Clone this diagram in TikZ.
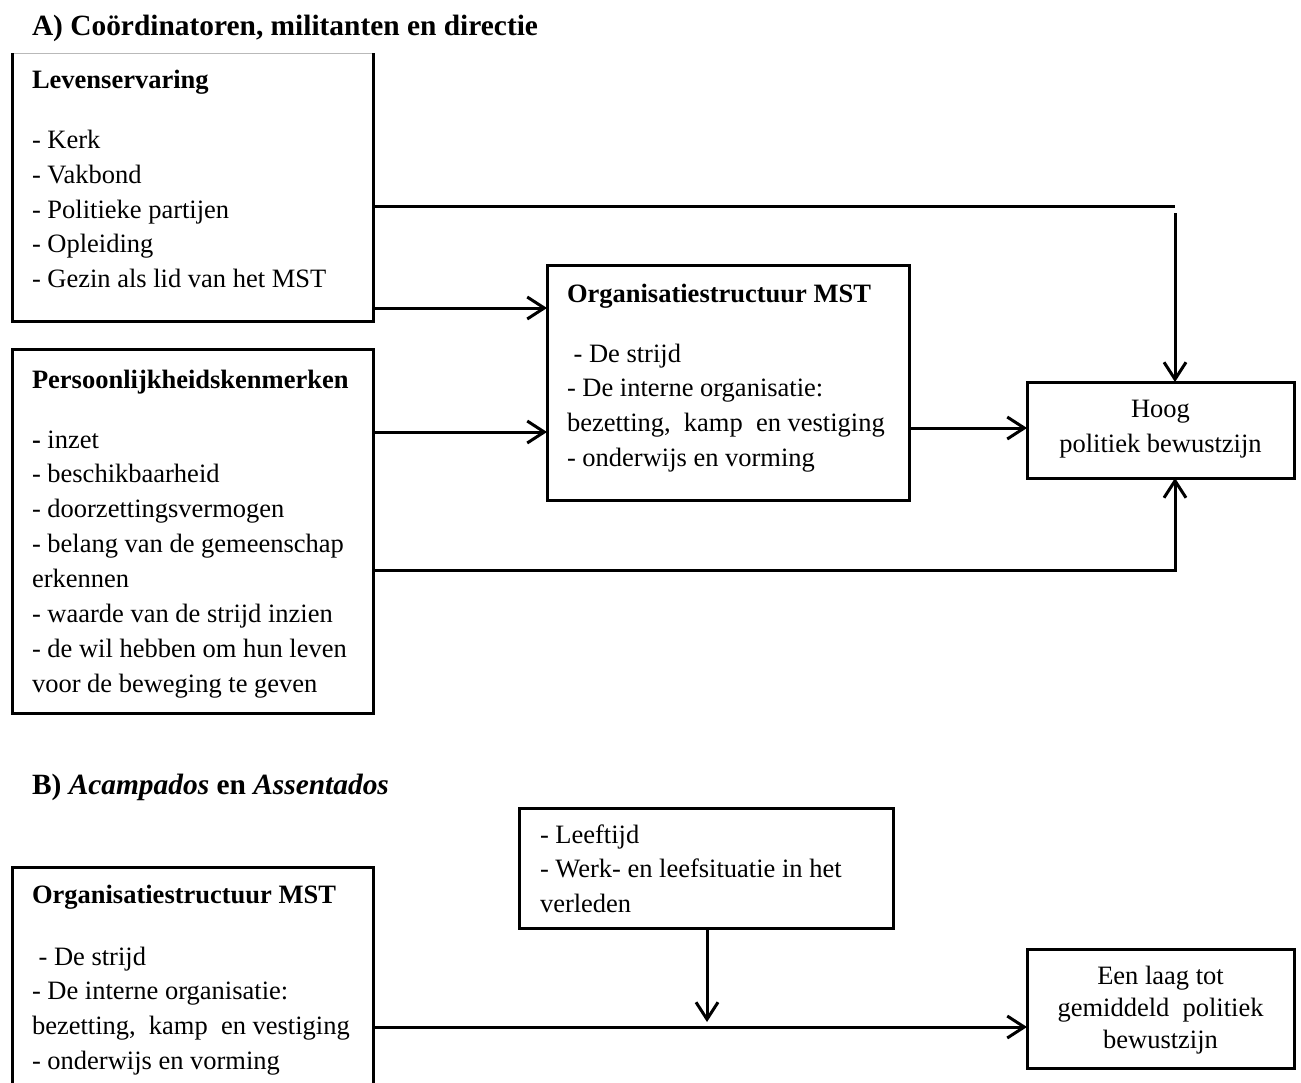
\documentclass[tikz,border=0pt]{standalone}
\usepackage{fontspec}
\setmainfont{Liberation Serif}
\usetikzlibrary{arrows.meta,calc}
\newcommand\fixsp{\spaceskip=6.6pt\relax\rule{0pt}{24pt}}
\begin{document}
\begin{tikzpicture}[x=1pt,y=-1pt,
  boxshape/.style={draw=black, line width=3pt, inner sep=0pt, outer sep=0pt, anchor=north west},
  openshape/.style={inner sep=0pt, outer sep=0pt, anchor=north west},
  txt/.style={inner sep=0pt, outer sep=0pt, anchor=north west, text width=420pt, align=left, font=\fontsize{26.5}{34.9}\selectfont},
  ctxt/.style={inner sep=0pt, outer sep=0pt, anchor=north, text width=260pt, align=center, font=\fontsize{26.5}{32}\selectfont},
  hdr/.style={inner sep=0pt, outer sep=0pt, anchor=base west, font=\fontsize{29.4}{34.9}\selectfont\bfseries},
  link/.style={line width=3pt},
  arrowlink/.style={line width=3pt, -{Straight Barb[length=17pt,width=22pt]}},
]
\path[use as bounding box] (0,0) rectangle (1301,1082);
\clip (0,0) rectangle (1301,1082);

% ---------- Part A ----------
\node[hdr] (titleA) at (32,35) {A) Coördinatoren, militanten en directie};

% Levenservaring box (top edge thin grey)
\node[openshape, minimum width=361pt, minimum height=268pt] (lev) at (12,53) {};
\draw[gray!55, line width=1pt] (lev.north west) -- (lev.north east);
\draw[line width=3pt] (lev.north west) -- (lev.south west) -- (lev.south east) -- (lev.north east);
\node[txt] (levt) at (32,64) {\fixsp\textbf{Levenservaring}\\[25.3pt]- Kerk\\- Vakbond\\- Politieke partijen\\- Opleiding\\- Gezin als lid van het MST};

% Persoonlijkheidskenmerken box
\node[boxshape, minimum width=361pt, minimum height=364pt] (pers) at (12,349) {};
\node[txt] (perst) at (32,364) {\fixsp\textbf{Persoonlijkheidskenmerken}\\[25.1pt]\textbf{-} inzet\\- beschikbaarheid\\- doorzettingsvermogen\\- belang van de gemeenschap\\erkennen\\- waarde van de strijd inzien\\- de wil hebben om hun leven\\voor de beweging te geven};

% Organisatiestructuur MST (A)
\node[boxshape, minimum width=362pt, minimum height=235pt] (org) at (547,265) {};
\node[txt] (orgt) at (567,278) {\fixsp\textbf{Organisatiestructuur MST}\\[25.1pt]\hspace*{6.6pt}- De strijd\\- De interne organisatie:\\bezetting,\ \ kamp\ \ en vestiging\\- onderwijs en vorming};

% Hoog politiek bewustzijn
\node[boxshape, minimum width=267pt, minimum height=96pt] (hoog) at (1027,382) {};
\node[ctxt, font=\fontsize{26.5}{35}\selectfont] (hoogt) at (1160.5,393) {\fixsp Hoog\\politiek bewustzijn};

% connectors A
\coordinate (atop) at ([yshift=115pt]lev.south east);
\coordinate (a1) at ([yshift=13pt]lev.south east);
\coordinate (b1) at ([yshift=-83pt]pers.north east);
\coordinate (b2) at ([yshift=143pt]pers.south east);
\coordinate (c1) at ([yshift=-163pt]org.north east);
\coordinate (hx) at ([xshift=148pt]hoog.north west);
\coordinate (hxb) at ([xshift=148pt]hoog.south west);
\coordinate (turn) at (hx |- atop);

\draw[link] (atop) -- (turn);
\draw[arrowlink] ([yshift=-7pt]turn) -- (hx);
\draw[arrowlink] (a1) -- (org.west |- a1);
\draw[arrowlink] (b1) -- (org.west |- b1);
\draw[arrowlink] (c1) -- (hoog.west |- c1);
\draw[arrowlink] (b2) -- (hxb |- b2) -- (hxb);

% ---------- Part B ----------
\node[hdr] (titleB) at (32,794) {B) \textit{Acampados} en \textit{Assentados}};

% Leeftijd box
\node[boxshape, minimum width=374pt, minimum height=120pt] (leef) at (519,808) {};
\node[txt] (leeft) at (540,819) {\fixsp- Leeftijd\\- Werk- en leefsituatie in het\\verleden};

% Organisatiestructuur MST (B), open at the bottom
\node[openshape, minimum width=361pt, minimum height=260pt] (org2) at (12,867) {};
\draw[line width=3pt] (org2.south west) -- (org2.north west) -- (org2.north east) -- (org2.south east);
\node[txt] (org2t) at (32,879) {\fixsp\textbf{Organisatiestructuur MST}\\[27.1pt]\hspace*{6.6pt}- De strijd\\- De interne organisatie:\\bezetting,\ \ kamp\ \ en vestiging\\- onderwijs en vorming};

% Een laag tot gemiddeld politiek bewustzijn
\node[boxshape, minimum width=267pt, minimum height=119pt] (een) at (1027,949) {};
\node[ctxt] (eent) at (1160.5,960) {\fixsp Een laag tot\\gemiddeld\ \ politiek\\bewustzijn};

% connectors B
\coordinate (d1) at ([yshift=-160pt]org2.north east);
\coordinate (lx) at ([xshift=188pt]leef.south west);
\draw[arrowlink] (d1) -- (een.west |- d1);
\draw[arrowlink] (lx) -- ($(lx |- d1)+(0,-5)$);
\end{tikzpicture}
\end{document}
